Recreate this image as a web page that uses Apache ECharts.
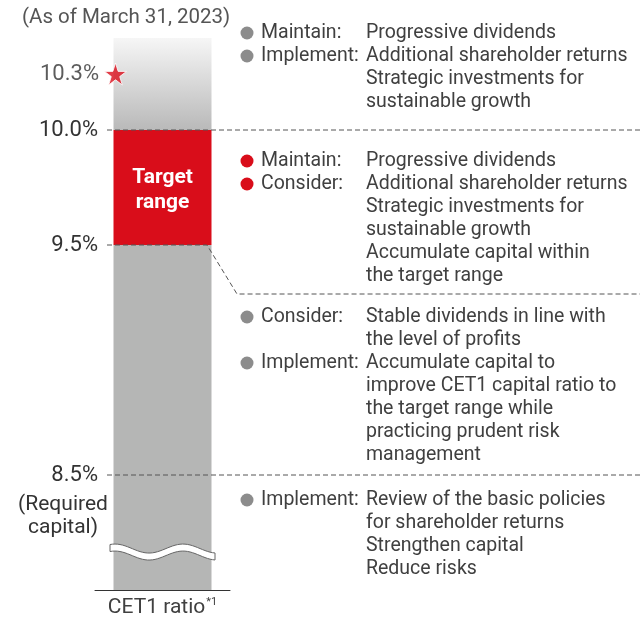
<!DOCTYPE html>
<html>
<head>
<meta charset="utf-8">
<script src="https://cdn.jsdelivr.net/npm/echarts@6/dist/echarts.min.js"></script>
<style>
  html, body { margin: 0; padding: 0; background: #fff; }
  #main { width: 640px; height: 621px; }
</style>
</head>
<body>
<div id="main"></div>
<script>
// ---- data ----
var categories = ['CET1 ratio'];
var belowTarget = [9.5];     // gray part, up to the bottom of the target range
var targetRange = [0.5];     // 9.5% -> 10.0%
var aboveTarget = [0.4];     // 10.0% -> top of the scale
var currentRatio = [10.3];   // as of March 31, 2023
var requiredCapital = 8.5;
var tickLabels = { '10.0': '10.0%', '9.5': '9.5%', '8.5': '8.5%' };

var tierGray = '#8c8c8c';
var tierRed = '#d90d1a';
var tiers = [
  { y: 33, color: tierGray, items: [
    ['Maintain:', ['Progressive dividends']],
    ['Implement:', ['Additional shareholder returns', 'Strategic investments for', 'sustainable growth']]
  ]},
  { y: 161, color: tierRed, items: [
    ['Maintain:', ['Progressive dividends']],
    ['Consider:', ['Additional shareholder returns', 'Strategic investments for', 'sustainable growth', 'Accumulate capital within', 'the target range']]
  ]},
  { y: 317, color: tierGray, items: [
    ['Consider:', ['Stable dividends in line with', 'the level of profits']],
    ['Implement:', ['Accumulate capital to', 'improve CET1 capital ratio to', 'the target range while', 'practicing prudent risk', 'management']]
  ]},
  { y: 500, color: tierGray, items: [
    ['Implement:', ['Review of the basic policies', 'for shareholder returns', 'Strengthen capital', 'Reduce risks']]
  ]}
];

var FONT = 'Roboto, "Liberation Sans", sans-serif';
var textColor = '#404040';

var starPath = 'path://M50,0 L61.8,35.1 L98.9,35.1 L68.8,56.9 L80.3,92.1 L50,70.3 L19.7,92.1 L31.2,56.9 L1.1,35.1 L38.2,35.1 Z';

var chart = echarts.init(document.getElementById('main'));

var option = {
  animation: false,
  backgroundColor: '#fff',
  grid: { left: 95, width: 135, top: 38, bottom: 31 },
  xAxis: {
    type: 'category',
    data: categories,
    axisLine: { lineStyle: { color: '#333', width: 1 } },
    axisTick: { show: false },
    axisLabel: {
      margin: 7,
      formatter: function (v) { return '{a|' + v + '}{s|*1}'; },
      rich: {
        a: { fontFamily: FONT, fontSize: 21, color: textColor },
        s: { fontFamily: FONT, fontSize: 11, color: textColor, verticalAlign: 'top', padding: [0, 0, 11, 1] }
      }
    }
  },
  yAxis: {
    type: 'value',
    min: 8,
    max: 10.4,
    interval: 0.1,
    offset: -8,
    splitLine: { show: false },
    axisLine: { show: false },
    axisTick: { show: false },
    axisLabel: {
      margin: 5,
      fontFamily: FONT,
      fontSize: 22,
      color: '#333',
      showMinLabel: true,
      showMaxLabel: true,
      formatter: function (v) {
        var k = (Math.round(v * 10) / 10).toFixed(1);
        return tickLabels[k] || '';
      }
    }
  },
  series: [
    {
      type: 'bar', stack: 'cet1', barWidth: 98, silent: true,
      data: belowTarget,
      itemStyle: { color: '#b5b6b5' }
    },
    {
      type: 'bar', stack: 'cet1', barWidth: 98, silent: true,
      data: targetRange,
      itemStyle: { color: '#d90d1a' },
      label: {
        show: true, position: 'inside', offset: [0, 3],
        formatter: 'Target\nrange',
        fontFamily: FONT, fontSize: 21, fontWeight: 'bold', lineHeight: 25, color: '#fff'
      }
    },
    {
      type: 'bar', stack: 'cet1', barWidth: 98, silent: true,
      data: aboveTarget,
      itemStyle: {
        color: new echarts.graphic.LinearGradient(0, 0, 0, 1, [
          { offset: 0, color: '#f6f6f6' },
          { offset: 1, color: '#b9b9b9' }
        ])
      }
    },
    {
      type: 'scatter', silent: true,
      data: currentRatio,
      symbol: starPath,
      symbolSize: 22,
      symbolOffset: [-47, 13],
      itemStyle: { color: '#d90d1a', borderColor: '#fff', borderWidth: 1 },
      label: {
        show: true, position: 'left', distance: 5,
        formatter: function (p) { return p.value.toFixed(1) + '%'; },
        fontFamily: FONT, fontSize: 22, color: '#333'
      },
      z: 5
    }
  ]
};
chart.setOption(option);

// ---- annotations built from axis coordinates ----
function px(v) { return chart.convertToPixel({ gridIndex: 0 }, [categories[0], v]); }

var dash = { stroke: '#555', lineWidth: 1, lineDash: [5, 3], fill: null };
var elements = [];
var y100 = px(10.0)[1], y95 = px(9.5)[1], y85 = px(requiredCapital)[1];
var cx = px(9)[0];

elements.push({ type: 'polyline', z: 10, shape: { points: [[107, y100], [640, y100]] }, style: dash });
elements.push({ type: 'polyline', z: 10, shape: { points: [[107, y95], [207, y95], [237, y95 + 49], [640, y95 + 49]] }, style: dash });
elements.push({ type: 'polyline', z: 10, shape: { points: [[107, y85], [640, y85]] }, style: dash });

// note under required capital
elements.push({ type: 'text', z: 10, style: {
  text: '(Required\ncapital)', x: 63, y: y85 + 18, align: 'center', verticalAlign: 'top',
  fontFamily: FONT, fontSize: 21, lineHeight: 23, fill: '#333'
}});

// as-of note
elements.push({ type: 'text', z: 10, style: {
  text: '(As of March 31, 2023)', x: 22, y: 18, verticalAlign: 'middle',
  fontFamily: FONT, fontSize: 20.5, fill: '#555'
}});

// axis break wave
var yw = px(8.165)[1];
var wl = cx - 52.5, wr = cx + 52.5;
var upper = [], lower = [];
for (var x = wl; x <= wr + 0.01; x += 2.5) {
  var yy = yw - 4.5 * Math.cos(2 * Math.PI * (x - cx + 47.5) / 68);
  upper.push([x, yy - 3.5]);
  lower.unshift([x, yy + 3.5]);
}
elements.push({ type: 'polygon', z: 10, shape: { points: upper.concat(lower) }, style: { fill: '#fff', stroke: '#666', lineWidth: 1 } });

// policy text blocks
var lineH = 23;
tiers.forEach(function (tier) {
  var y = tier.y;
  tier.items.forEach(function (item) {
    elements.push({ type: 'circle', z: 10, shape: { cx: 247, cy: y, r: 6.5 }, style: { fill: tier.color } });
    elements.push({ type: 'text', z: 10, style: {
      text: item[0], x: 261, y: y, verticalAlign: 'middle', fontFamily: FONT, fontSize: 19.5, fill: textColor
    }});
    item[1].forEach(function (line) {
      elements.push({ type: 'text', z: 10, style: {
        text: line, x: 366, y: y, verticalAlign: 'middle', fontFamily: FONT, fontSize: 19.5, fill: textColor
      }});
      y += lineH;
    });
  });
});

chart.setOption({ graphic: { elements: elements } });
</script>
</body>
</html>
